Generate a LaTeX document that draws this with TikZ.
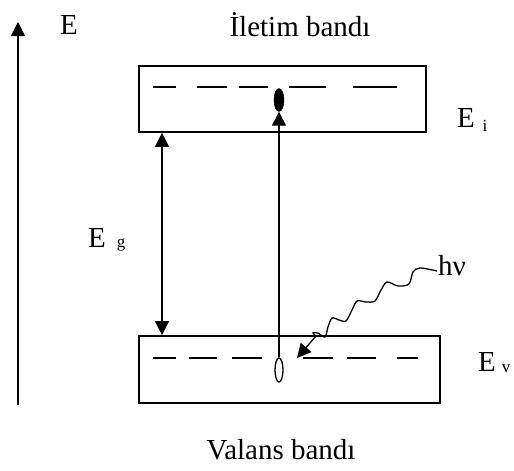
\documentclass[tikz,border=0pt]{standalone}
\usepackage{fontspec}
\setmainfont{Liberation Serif}
\usetikzlibrary{arrows.meta,shapes.geometric}
\tikzset{
  lbl/.style={font=\fontsize{29}{31}\selectfont, inner sep=0pt},
  sub/.style={font=\fontsize{17}{19}\selectfont, inner sep=0pt},
  band/.style={draw, line width=1.6pt},
  lvl/.style={line width=1.6pt},
  tip/.style={-{Triangle[length=14pt,width=14pt]}, line width=1.3pt},
  dtip/.style={{Triangle[length=14pt,width=14pt]}-{Triangle[length=14pt,width=14pt]}, line width=1.3pt},
}
\begin{document}
\begin{tikzpicture}[x=1pt,y=-1pt]
\useasboundingbox (0,0) rectangle (514,471);
% axis
\coordinate (ax0) at (18,405);
\coordinate (ax1) at (18,22);
\draw[tip] (ax0) -- (ax1);
\node[lbl] (E) at (69,25) {E};
\node[lbl] (cb) at (300,25) {İletim bandı};
\node[lbl] (vb) at (281,450) {Valans bandı};
% bands
\node[band, minimum width=287pt, minimum height=66pt, inner sep=0pt] (top) at (282.5,99) {};
\node[band, minimum width=301pt, minimum height=67pt, inner sep=0pt] (bot) at (289.5,369.5) {};
% dashes top
\foreach \a/\b in {153/176,197/227,239/268,289/326,353/397}
  \draw[lvl] (\a,87) -- (\b,87);
% dashes bottom
\foreach \a/\b in {153/176,189/217,232/262,303/333,347/376,397/418}
  \draw[lvl] (\a,358) -- (\b,358);
% electron and hole
\node[draw, fill=black, ellipse, minimum width=10pt, minimum height=23pt, inner sep=0pt] (el) at (279,100) {};
\node[draw, fill=white, ellipse, line width=1.3pt, minimum width=8pt, minimum height=24pt, inner sep=0pt] (ho) at (279,370) {};
\draw[tip] (ho.north) -- (el.south);
% gap arrow
\draw[dtip] (top.south -| 162,0) -- (bot.north -| 162,0);
% labels
\node[lbl] (Eg) at (97,238) {E};
\node[sub] (g) at (121,245) {g};
\node[lbl] (Ei) at (466,118) {E};
\node[sub] (i) at (485,126) {i};
\node[lbl] (Ev) at (487,362) {E};
\node[sub] (v) at (506,369) {v};
\node[lbl] (hv) at (452,266) {hν};
% photon
\coordinate (w1) at (316,336);
\draw[line width=1.3pt] plot[smooth, tension=0.5] coordinates {(437,271) (420,268) (413,272) (409,284) (398,286) (387,282) (381,290) (375,301) (366,302) (357,301) (352,310) (346,321) (339,320) (332,318) (328,327) (325,337) (318,333) (313,333) (316,336)};
\draw[tip] (w1) -- (297,358);
\end{tikzpicture}
\end{document}
